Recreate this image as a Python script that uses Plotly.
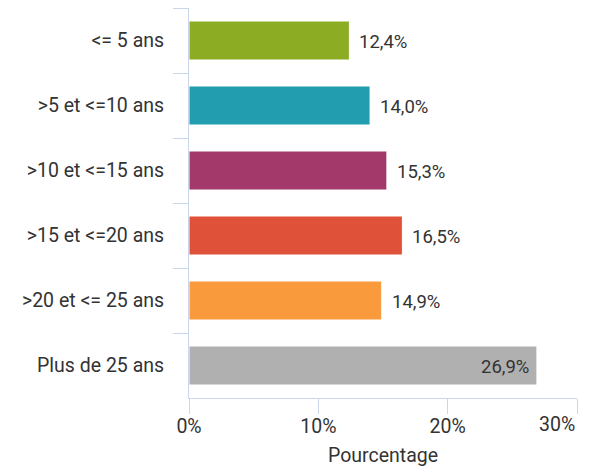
import plotly.graph_objects as go

categories = ["<= 5 ans", ">5 et <=10 ans", ">10 et <=15 ans", ">15 et <=20 ans",
              ">20 et <= 25 ans", "Plus de 25 ans"]
values = [12.4, 14.0, 15.3, 16.5, 14.9, 26.9]
labels = ["12,4%", "14,0%", "15,3%", "16,5%", "14,9%", "26,9%"]
colors = ["#8bac23", "#219daf", "#a3386a", "#e0513a", "#f99b3c", "#b0b0b0"]
x_ticks = [0, 10, 20, 30]
x_ticktext = ["0%", "10%", "20%", "30%"]

AXIS = "#ccd6eb"
TEXT = "#333333"
FONT = "Roboto"
AXIS_SIZE = 19.5
LABEL_SIZE = 18.5

fig = go.Figure()
fig.add_trace(
    go.Bar(
        y=categories,
        x=values,
        orientation="h",
        marker={"color": colors, "line": {"color": "white", "width": 1}},
        width=0.6,
        hoverinfo="skip",
    )
)

# étiquettes de valeur : dehors sauf pour la dernière barre (dedans, à droite)
for cat, val, lab in zip(categories, values, labels):
    inside = val > 25
    fig.add_annotation(
        x=val, y=cat, text=lab, showarrow=False,
        xanchor="right" if inside else "left",
        xshift=-6 if inside else 8,
        yshift=-1,
        font={"family": FONT, "size": LABEL_SIZE, "color": TEXT},
    )

# le dernier libellé de l'axe x est calé à droite (comme dans l'original)
fig.add_annotation(
    x=x_ticks[-1], y=0, xref="x", yref="paper", yanchor="middle", xanchor="right",
    text=x_ticktext[-1], showarrow=False, yshift=-26,
    font={"family": FONT, "size": AXIS_SIZE, "color": TEXT},
)
# titre de l'axe x
fig.add_annotation(
    x=0.5, y=0, xref="paper", yref="paper", yanchor="middle", xanchor="center",
    text="Pourcentage", showarrow=False, yshift=-57,
    font={"family": FONT, "size": AXIS_SIZE, "color": TEXT},
)

# la page ajoute 8 px de marge (body) : on compense
fig.update_layout(
    width=592, height=460,
    margin={"l": 181, "r": 23, "t": 0, "b": 70},
    paper_bgcolor="white", plot_bgcolor="white",
    showlegend=False,
    font={"family": FONT, "size": AXIS_SIZE, "color": TEXT},
)
fig.update_yaxes(
    autorange="reversed",
    automargin=False,
    tickson="boundaries",
    ticks="outside", ticklen=15, tickcolor=AXIS, tickwidth=1,
    showline=True, linecolor=AXIS, linewidth=1,
    showgrid=False,
    ticklabelstandoff=20,
    tickfont={"family": FONT, "size": AXIS_SIZE, "color": TEXT},
)
fig.update_xaxes(
    range=[0, 30],
    automargin=False,
    tickvals=x_ticks, ticktext=x_ticktext[:-1] + [""],
    ticks="outside", ticklen=15, tickcolor=AXIS, tickwidth=1,
    showline=True, linecolor=AXIS, linewidth=1,
    showgrid=False, zeroline=False,
    ticklabelstandoff=-4,
    tickfont={"family": FONT, "size": AXIS_SIZE, "color": TEXT},
)

fig.write_html("out.html")
